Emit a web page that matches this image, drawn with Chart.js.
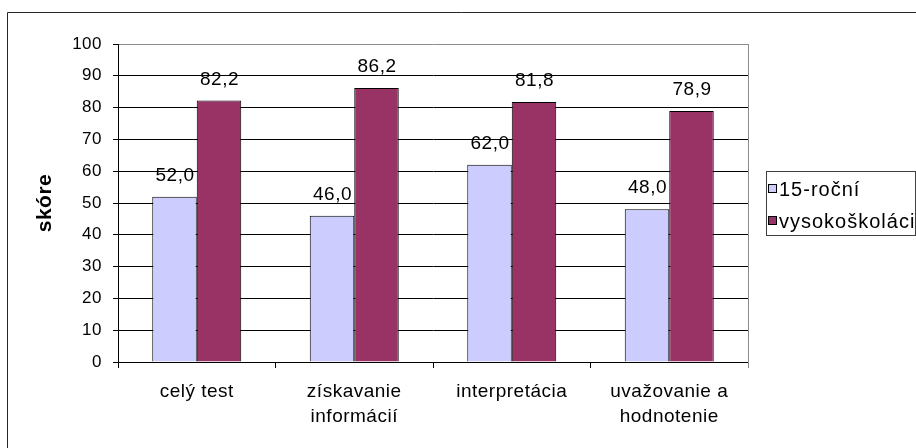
<!DOCTYPE html>
<html>
<head>
<meta charset="utf-8">
<script src="https://cdn.jsdelivr.net/npm/chart.js@4.4.1/dist/chart.umd.min.js"></script>
<style>
  html, body { margin: 0; padding: 0; background: #fff; overflow: hidden; }
  #wrap { width: 916px; height: 448px; position: relative; }
</style>
</head>
<body>
<div id="wrap"><canvas id="c" width="916" height="448"></canvas></div>
<script>
// Reading literacy scores by task type
const categories = [['celý test'], ['získavanie', 'informácií'], ['interpretácia'], ['uvažovanie a', 'hodnotenie']];
const seriesNames = ['15-roční', 'vysokoškoláci'];
const youthScores = [52.0, 46.0, 62.0, 48.0];
const graduateScores = [82.2, 86.2, 81.8, 78.9];
const yTicks = [0, 10, 20, 30, 40, 50, 60, 70, 80, 90, 100];
const yTitle = 'skóre';

const FONT = '"Liberation Sans", Arial, sans-serif';
Chart.defaults.font.family = FONT;
Chart.defaults.color = '#000';

const fmt = v => v.toFixed(1).replace('.', ',');

const decorations = {
  id: 'decorations',
  beforeDraw(chart) {
    const ctx = chart.ctx;
    ctx.save();
    ctx.strokeStyle = '#262626';
    ctx.lineWidth = 1;
    ctx.beginPath();
    ctx.moveTo(7.5, chart.height);
    ctx.lineTo(7.5, 12.5);
    ctx.lineTo(chart.width, 12.5);
    ctx.stroke();
    ctx.restore();
    // slightly loose tracking for axis texts
    ctx.letterSpacing = '0.5px';
  },
  beforeDatasetsDraw(chart) {
    const { ctx, chartArea: a } = chart;
    ctx.save();
    ctx.strokeStyle = '#8c8c8c';
    ctx.lineWidth = 1;
    ctx.beginPath();
    ctx.moveTo(Math.round(a.right) + 0.5, a.top);
    ctx.lineTo(Math.round(a.right) + 0.5, a.bottom + 6);
    ctx.stroke();
    ctx.restore();
  },
  afterDatasetsDraw(chart) {
    const ctx = chart.ctx;
    ctx.save();
    ctx.letterSpacing = '0.5px';
    ctx.font = '19px ' + FONT;
    ctx.fillStyle = '#000';
    ctx.textAlign = 'center';
    ctx.textBaseline = 'alphabetic';
    chart.data.datasets.forEach((ds, i) => {
      chart.getDatasetMeta(i).data.forEach((bar, j) => {
        ctx.fillText(fmt(ds.data[j]), bar.x + 0.5, bar.y - 16);
      });
    });
    ctx.restore();
  },
  afterDraw(chart) {
    const ctx = chart.ctx;
    ctx.save();
    ctx.letterSpacing = '1px';
    ctx.strokeStyle = '#404040';
    ctx.lineWidth = 1;
    ctx.strokeRect(766.5, 171.5, 149, 64);
    ctx.font = '20px ' + FONT;
    ctx.textAlign = 'left';
    ctx.textBaseline = 'middle';
    const rows = [189, 221];
    chart.data.datasets.forEach((ds, i) => {
      const y = rows[i];
      ctx.fillStyle = ds.backgroundColor;
      ctx.fillRect(769, y - 4, 7, 7);
      ctx.strokeStyle = '#000';
      ctx.strokeRect(768.5, y - 4.5, 8, 8);
      ctx.fillStyle = '#000';
      ctx.fillText(ds.label, 779, y + 1);
    });
    ctx.restore();
    ctx.letterSpacing = '0px';
  }
};

new Chart(document.getElementById('c'), {
  type: 'bar',
  data: {
    labels: categories,
    datasets: [
      { label: seriesNames[0], data: youthScores, backgroundColor: '#CCCCFF', borderColor: '#000', borderWidth: 1 },
      { label: seriesNames[1], data: graduateScores, backgroundColor: '#993366', borderColor: '#000', borderWidth: 1 }
    ]
  },
  options: {
    responsive: false,
    animation: false,
    devicePixelRatio: 1,
    layout: { padding: { top: 44, right: 168, left: 0, bottom: 0 } },
    datasets: { bar: { categoryPercentage: 0.565, barPercentage: 1.0 } },
    plugins: { legend: { display: false }, tooltip: { enabled: false } },
    scales: {
      x: {
        grid: { offset: true, drawOnChartArea: false, drawTicks: true, tickLength: 6, color: '#000', lineWidth: 1 },
        border: { color: '#000', width: 1 },
        ticks: { font: { size: 19, lineHeight: 1.32 }, padding: 11, maxRotation: 0, autoSkip: false, color: '#000' },
        afterFit(scale) { scale.height = 86; }
      },
      y: {
        min: 0, max: 100,
        afterBuildTicks(scale) { scale.ticks = yTicks.map(v => ({ value: v })); },
        grid: {
          color: ctx => (ctx.tick && ctx.tick.value === 100 ? '#8c8c8c' : '#000'),
          tickColor: '#000',
          tickLength: 5,
          lineWidth: 1
        },
        border: { color: '#000', width: 1 },
        ticks: { font: { size: 17 }, padding: 11, color: '#000' },
        title: { display: true, text: yTitle, font: { size: 21, weight: 'bold' }, color: '#000', padding: { top: 33, bottom: 0 } },
        afterFit(scale) { scale.width = 118; }
      }
    }
  },
  plugins: [decorations]
});
</script>
</body>
</html>
